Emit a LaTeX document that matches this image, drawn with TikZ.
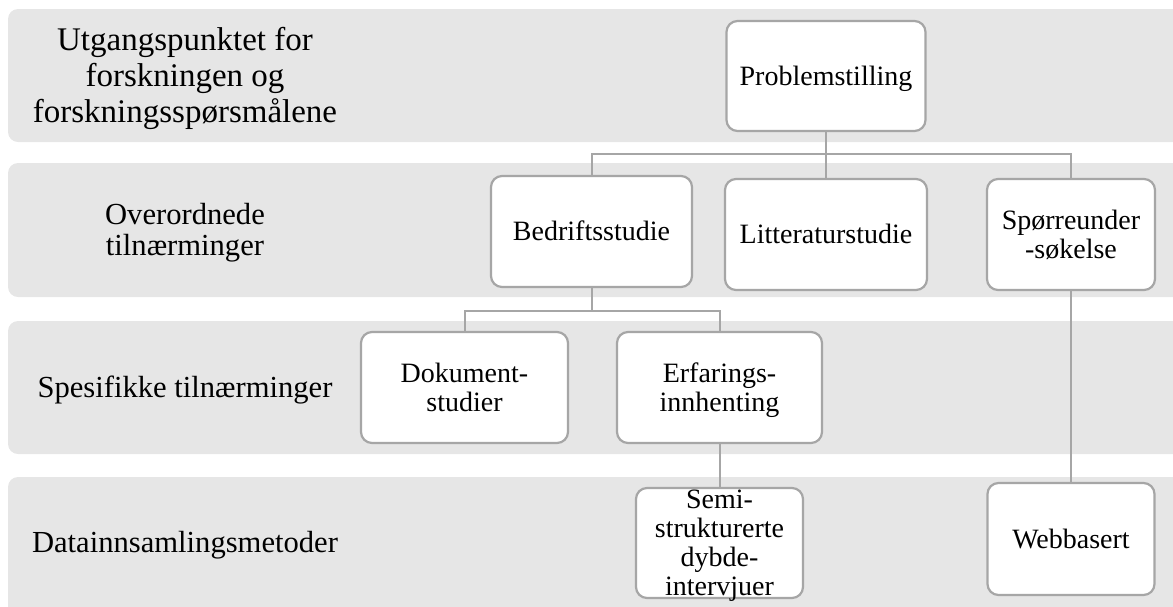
\documentclass[tikz,border=0pt]{standalone}
\usepackage{fontspec}
\setmainfont{Liberation Serif}
\definecolor{bandgray}{HTML}{E6E6E6}
\definecolor{edgegray}{HTML}{A6A6A6}
\newcommand\sTop{\rule{0pt}{0.891em}}
\newcommand\sBot{\rule[-0.216em]{0pt}{0pt}}
\begin{document}
\begin{tikzpicture}[x=1pt,y=-1pt,
  band/.style={fill=bandgray, rounded corners=10pt},
  box/.style={draw=edgegray, line width=2.2pt, fill=white, rounded corners=11pt, inner sep=0pt,
    align=center, font=\fontsize{28}{29}\selectfont},
  boxtxt/.style={align=center, inner sep=0pt, font=\fontsize{28}{29}\selectfont},
  lbl/.style={align=center, inner sep=0pt, font=\fontsize{30.6}{30.5}\selectfont},
  conn/.style={draw=edgegray, line width=2pt}]
\useasboundingbox (0,0) rectangle (1173,606);
% bands
\fill[band] (8,9) rectangle (1195,142);
\fill[band] (8,163) rectangle (1195,297);
\fill[band] (8,321) rectangle (1195,454);
\fill[band] (8,477) rectangle (1195,630);
% row labels
\node[lbl, font=\fontsize{33}{36}\selectfont] (l1) at (185,75.5) {\sTop Utgangspunktet for\\forskningen og\\forskningsspørsmålene\sBot};
\node[lbl] (l2) at (185,229.5) {\sTop Overordnede\\tilnærminger\sBot};
\node[lbl] (l3) at (185,387.5) {\sTop Spesifikke tilnærminger\sBot};
\node[lbl] (l4) at (185,542) {\sTop Datainnsamlingsmetoder\sBot};
% connector levels
\coordinate (h1) at (0,154);
\coordinate (h2) at (0,311);
% boxes (coordinates only first for connectors)
\coordinate (cprob) at (826,76);
% connectors drawn first, boxes on top
\begin{scope}
\path (826,76) node[box, minimum width=199pt, minimum height=110pt, draw=none, fill=none] (prob) {};
\path (591.5,231.5) node[box, minimum width=201pt, minimum height=111pt, draw=none, fill=none] (bed) {};
\path (826,234.5) node[box, minimum width=202pt, minimum height=111pt, draw=none, fill=none] (lit) {};
\path (1071,234.5) node[box, minimum width=168pt, minimum height=111pt, draw=none, fill=none] (spr) {};
\path (464.5,387.5) node[box, minimum width=207pt, minimum height=111pt, draw=none, fill=none] (dok) {};
\path (719.5,387.5) node[box, minimum width=205pt, minimum height=111pt, draw=none, fill=none] (erf) {};
\path (719.5,543) node[box, minimum width=167pt, minimum height=110pt, draw=none, fill=none] (semi) {};
\path (1071,539) node[box, minimum width=167pt, minimum height=112pt, draw=none, fill=none] (web) {};
\end{scope}
\draw[conn] (prob.south) -- (prob.south |- h1);
\draw[conn] (bed.north) |- (spr.north |- h1) -- (spr.north);
\draw[conn] (lit.north) -- (lit.north |- h1);
\draw[conn] (bed.south) -- (bed.south |- h2);
\draw[conn] (dok.north) |- (erf.north |- h2) -- (erf.north);
\draw[conn] (erf.south) -- (semi.north);
\draw[conn] (spr.south) -- (web.north);
% visible boxes
\node[box, minimum width=199pt, minimum height=110pt] (probB) at (prob) {\sTop Problemstilling\sBot};
\node[box, minimum width=201pt, minimum height=111pt] (bedB) at (bed) {\sTop Bedriftsstudie\sBot};
\node[box, minimum width=202pt, minimum height=111pt] (litB) at (lit) {\sTop Litteraturstudie\sBot};
\node[box, minimum width=168pt, minimum height=111pt] (sprB) at (spr) {\sTop Spørreunder\\-søkelse\sBot};
\node[box, minimum width=207pt, minimum height=111pt] (dokB) at (dok) {\sTop Dokument-\\studier\sBot};
\node[box, minimum width=205pt, minimum height=111pt] (erfB) at (erf) {\sTop Erfarings-\\innhenting\sBot};
\node[box, minimum width=167pt, minimum height=110pt] (semiB) at (semi) {};
\node[boxtxt] (semiT) at (semi) {\sTop Semi-\\strukturerte\\dybde-\\intervjuer\sBot};
\node[box, minimum width=167pt, minimum height=112pt] (webB) at (web) {\sTop Webbasert\sBot};
\end{tikzpicture}
\end{document}
